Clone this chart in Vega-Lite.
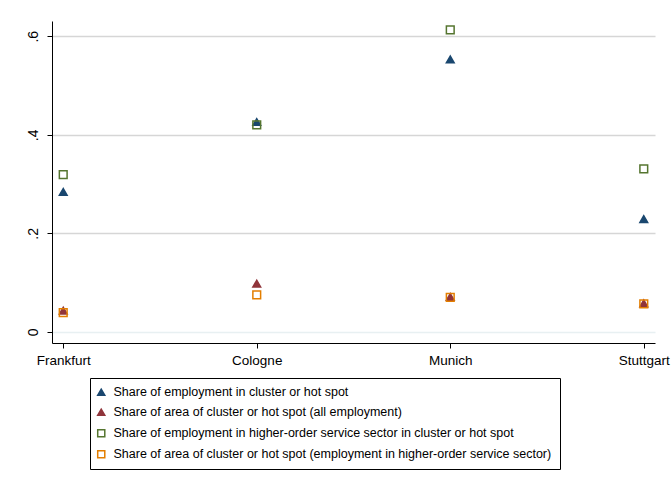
{
  "$schema": "https://vega.github.io/schema/vega-lite/v6.json",
  "width": 603,
  "height": 322,
  "autosize": {"type": "none"},
  "padding": {"left": 52, "top": 21, "right": 16, "bottom": 145},
  "background": "white",
  "config": {
    "font": "Liberation Sans",
    "view": {"stroke": null},
    "axis": {"labelFont": "Liberation Sans", "labelFontSize": 13.5, "labelColor": "black", "domainColor": "black", "tickColor": "black", "tickSize": 5, "domainWidth": 1, "tickWidth": 1}
  },
  "data": {
    "values": [
      {"city": "Frankfurt", "series": "Share of employment in cluster or hot spot", "value": 0.284},
      {"city": "Cologne", "series": "Share of employment in cluster or hot spot", "value": 0.426},
      {"city": "Munich", "series": "Share of employment in cluster or hot spot", "value": 0.553},
      {"city": "Stuttgart", "series": "Share of employment in cluster or hot spot", "value": 0.229},
      {"city": "Frankfurt", "series": "Share of area of cluster or hot spot (all employment)", "value": 0.043},
      {"city": "Cologne", "series": "Share of area of cluster or hot spot (all employment)", "value": 0.098},
      {"city": "Munich", "series": "Share of area of cluster or hot spot (all employment)", "value": 0.071},
      {"city": "Stuttgart", "series": "Share of area of cluster or hot spot (all employment)", "value": 0.058},
      {"city": "Frankfurt", "series": "Share of employment in higher-order service sector in cluster or hot spot", "value": 0.319},
      {"city": "Cologne", "series": "Share of employment in higher-order service sector in cluster or hot spot", "value": 0.42},
      {"city": "Munich", "series": "Share of employment in higher-order service sector in cluster or hot spot", "value": 0.613},
      {"city": "Stuttgart", "series": "Share of employment in higher-order service sector in cluster or hot spot", "value": 0.331},
      {"city": "Frankfurt", "series": "Share of area of cluster or hot spot (employment in higher-order service sector)", "value": 0.039},
      {"city": "Cologne", "series": "Share of area of cluster or hot spot (employment in higher-order service sector)", "value": 0.075},
      {"city": "Munich", "series": "Share of area of cluster or hot spot (employment in higher-order service sector)", "value": 0.07},
      {"city": "Stuttgart", "series": "Share of area of cluster or hot spot (employment in higher-order service sector)", "value": 0.057}
    ]
  },
  "mark": {"type": "point", "opacity": 1, "strokeWidth": 1.5, "size": 60},
  "encoding": {
    "x": {
      "field": "city", "type": "nominal",
      "scale": {"type": "point", "padding": 0.058, "domain": ["Frankfurt", "Cologne", "Munich", "Stuttgart"]},
      "axis": {"title": null, "labelAngle": 0, "labelPadding": 5, "grid": false}
    },
    "y": {
      "field": "value", "type": "quantitative",
      "scale": {"domain": [-0.0225, 0.631], "nice": false, "zero": false},
      "axis": {
        "title": null, "values": [0, 0.2, 0.4, 0.6], "labelAngle": -90, "labelPadding": 7, "labelFontSize": 14,
        "labelExpr": "datum.value == 0 ? '0' : '.' + round(datum.value * 10)",
        "grid": true, "gridWidth": 1.5,
        "gridColor": {"expr": "datum.value == 0 ? '#e8f0f2' : '#d6d6d6'"}
      }
    },
    "shape": {
      "field": "series", "type": "nominal",
      "scale": {
        "domain": ["Share of employment in cluster or hot spot", "Share of area of cluster or hot spot (all employment)", "Share of employment in higher-order service sector in cluster or hot spot", "Share of area of cluster or hot spot (employment in higher-order service sector)"],
        "range": ["triangle-up", "triangle-up", "square", "square"]
      },
      "legend": {"title": null}
    },
    "fill": {
      "field": "series", "type": "nominal",
      "scale": {
        "domain": ["Share of employment in cluster or hot spot", "Share of area of cluster or hot spot (all employment)", "Share of employment in higher-order service sector in cluster or hot spot", "Share of area of cluster or hot spot (employment in higher-order service sector)"],
        "range": ["#1a476f", "#90353b", "transparent", "transparent"]
      },
      "legend": {"title": null}
    },
    "stroke": {
      "field": "series", "type": "nominal",
      "scale": {
        "domain": ["Share of employment in cluster or hot spot", "Share of area of cluster or hot spot (all employment)", "Share of employment in higher-order service sector in cluster or hot spot", "Share of area of cluster or hot spot (employment in higher-order service sector)"],
        "range": ["#1a476f", "#90353b", "#55752f", "#e37e00"]
      },
      "legend": {
        "title": null, "orient": "none", "legendX": 38, "legendY": 357,
        "strokeColor": "black", "fillColor": "white", "padding": 8,
        "labelFont": "Liberation Sans", "labelFontSize": 12.5, "labelColor": "black", "labelLimit": 0,
        "labelExpr": "datum.label + '\u2003\u2003'",
        "symbolSize": 50, "symbolStrokeWidth": 1.5, "rowPadding": 7, "labelOffset": 6, "symbolOffset": -3
      }
    }
  }
}
